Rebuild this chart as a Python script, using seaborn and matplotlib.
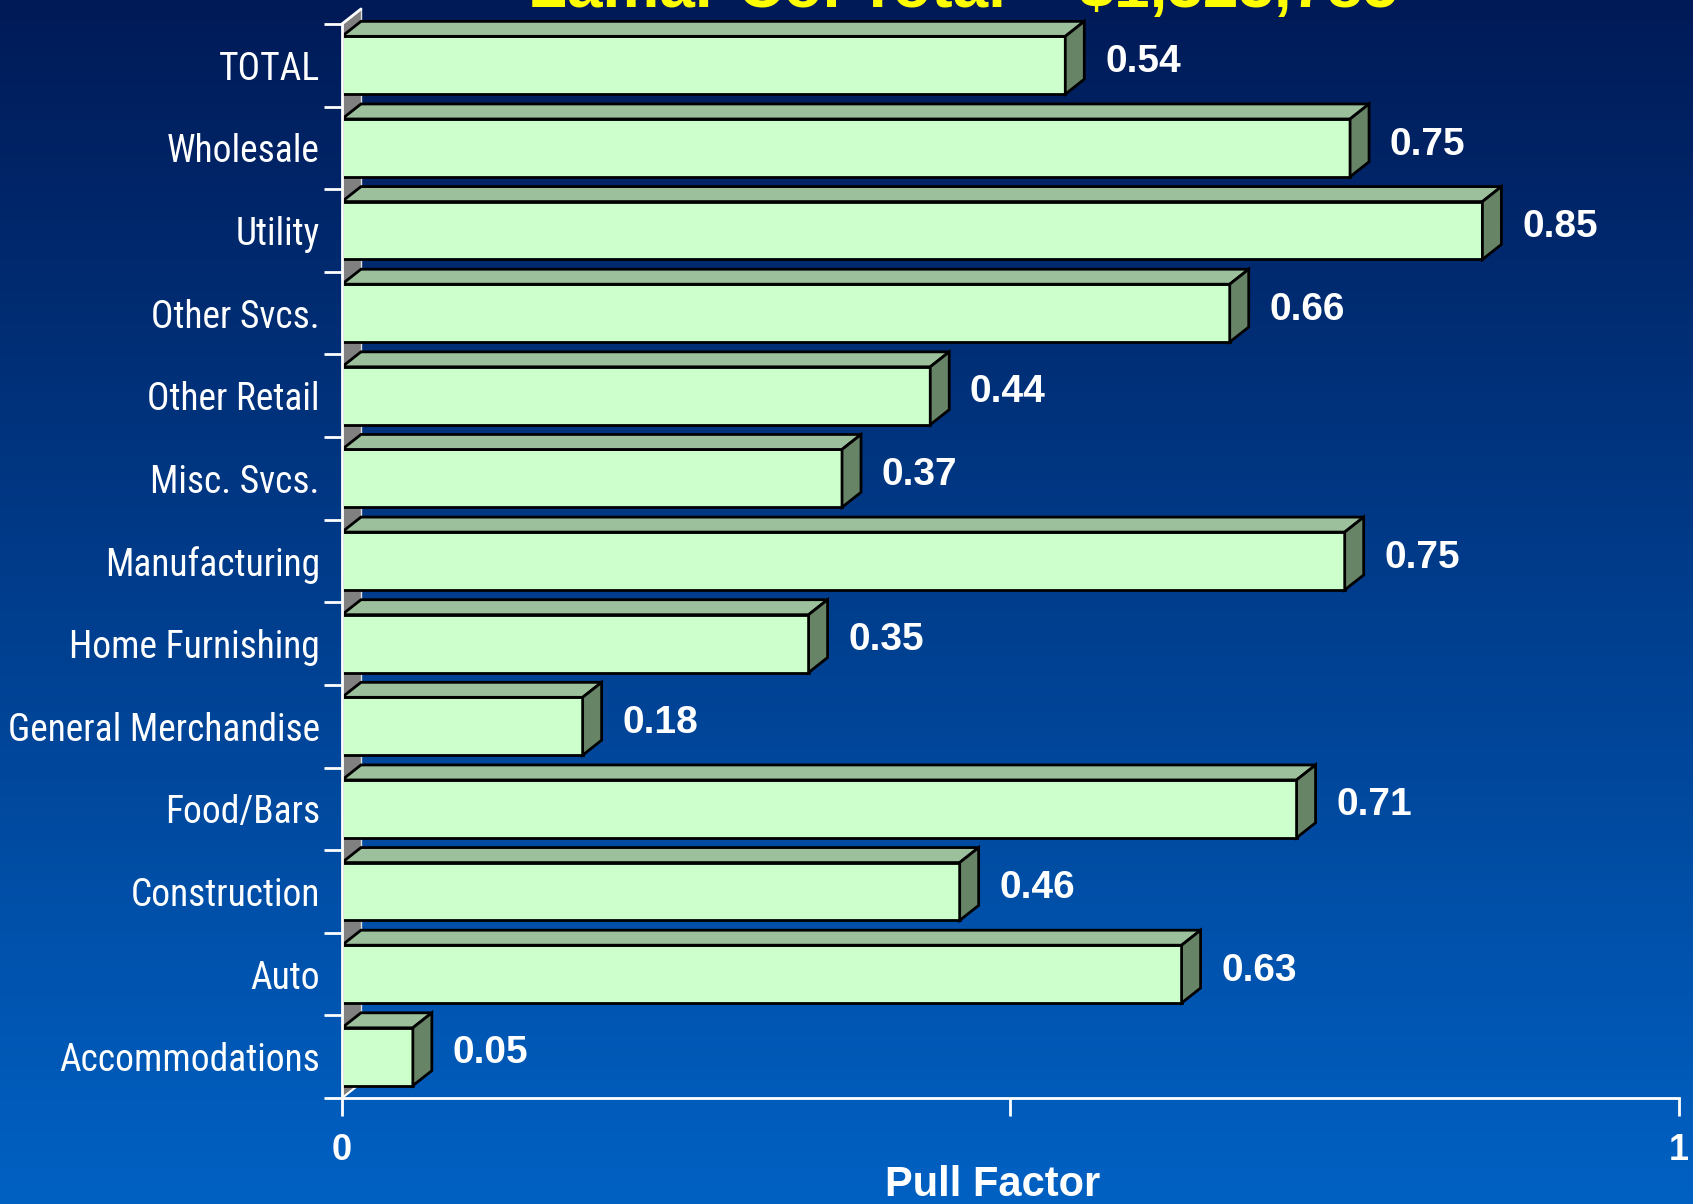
import numpy as np
import pandas as pd
import seaborn as sns
import matplotlib.pyplot as plt
from matplotlib import font_manager
from matplotlib.colors import LinearSegmentedColormap
from matplotlib.patches import Polygon

# data (top to bottom)
categories = ['TOTAL', 'Wholesale', 'Utility', 'Other Svcs.', 'Other Retail', 'Misc. Svcs.',
              'Manufacturing', 'Home Furnishing', 'General Merchandise', 'Food/Bars',
              'Construction', 'Auto', 'Accommodations']
pull_factor = [0.541, 0.754, 0.853, 0.664, 0.440, 0.374, 0.750, 0.349, 0.180, 0.714,
               0.462, 0.628, 0.053]
x_ticks = [0, 0.5, 1]
x_tick_labels = ['0', '', '1']
title = 'Lamar Co. Total = $1,323,785'

df = pd.DataFrame({'category': categories, 'pull': pull_factor})

sns.set_theme(style='white')
plt.rcParams['font.family'] = ['Liberation Sans', 'DejaVu Sans']

# category labels use a narrow face - pick whatever condensed font is around
fonts = [(f.name, f.stretch) for f in font_manager.fontManager.ttflist]
names = set(n for n, s in fonts)
lab_font = dict(family=['Liberation Sans', 'DejaVu Sans'], fontsize=23)
if 'Liberation Sans Narrow' in names:
    lab_font = dict(family=['Liberation Sans Narrow', 'DejaVu Sans'], fontsize=28)
elif 'Roboto Condensed' in names:
    lab_font = dict(family=['Roboto Condensed', 'DejaVu Sans'], fontsize=27)
else:
    for fam in ['Open Sans', 'Noto Sans', 'Roboto', 'DejaVu Sans']:
        if (fam, 'condensed') in fonts:
            lab_font = dict(family=[fam, 'DejaVu Sans'], fontstretch='condensed', fontsize=27)
            break

fig = plt.figure(figsize=(16.93, 12.04), dpi=100)

# blue gradient background
bg = fig.add_axes([0, 0, 1, 1], zorder=-10)
grad = np.linspace(0, 1, 256).reshape(-1, 1)
cmap = LinearSegmentedColormap.from_list('bg', ['#001a57', '#0061c3'])
bg.imshow(grad, aspect='auto', cmap=cmap, extent=[0, 1, 0, 1], origin='upper')
bg.axis('off')

ax = fig.add_axes([0.2020, 0.0880, 0.7897, 0.8921])
ax.patch.set_alpha(0)
sns.barplot(data=df, x='pull', y='category', orient='h', color='#ccffcc', saturation=1,
            edgecolor='black', linewidth=2, width=0.7, ax=ax, zorder=3)
ax.set_xlim(0, 1)
ax.set_ylim(len(categories) - 0.5, -0.5)
ax.set_xlabel('')
ax.set_ylabel('')

# 3d depth in data units (about 19px right, 15px up)
dx = 19 / 1337
dy = 15 / 82.6

# left back wall
ybot, ytop = len(categories) - 0.5, -0.5
wall = Polygon([(0, ybot), (dx, ybot - dy), (dx, ytop - dy), (0, ytop)],
               closed=True, facecolor='#808080', edgecolor='none', zorder=1, clip_on=False)
ax.add_patch(wall)
ax.plot([0, dx], [ytop, ytop - dy], color='white', lw=2, zorder=2, clip_on=False)
ax.plot([0, dx], [ybot, ybot - dy], color='white', lw=1.5, zorder=2, clip_on=False)
ax.plot([dx, dx], [ybot - dy, ytop - dy], color='#dddddd', lw=1, zorder=1.5, clip_on=False)

for p, v in zip(ax.patches[:len(categories)], pull_factor):
    x0, w, y0, h = p.get_x(), p.get_width(), p.get_y(), p.get_height()
    top = Polygon([(x0, y0), (x0 + w, y0), (x0 + w + dx, y0 - dy), (x0 + dx, y0 - dy)],
                  closed=True, facecolor='#9bc09b', edgecolor='black', lw=2, zorder=3,
                  clip_on=False)
    side = Polygon([(x0 + w, y0), (x0 + w, y0 + h), (x0 + w + dx, y0 + h - dy),
                    (x0 + w + dx, y0 - dy)],
                   closed=True, facecolor='#678467', edgecolor='black', lw=2, zorder=3,
                   clip_on=False)
    ax.add_patch(top)
    ax.add_patch(side)
    ax.text(x0 + w + dx + 0.0155, y0 + h / 2 - dy / 2 + 0.05, f'{v:.2f}', ha='left',
            va='center', color='white', fontsize=28, fontweight='bold', zorder=5)

# axes and ticks
for s in ['top', 'right']:
    ax.spines[s].set_visible(False)
for s in ['left', 'bottom']:
    ax.spines[s].set_color('white')
    ax.spines[s].set_linewidth(2)
    ax.spines[s].set_zorder(4)

ax.set_xticks(x_ticks)
ax.set_xticklabels(x_tick_labels)
ax.tick_params(axis='x', bottom=True, direction='out', length=13, width=2, color='white',
               labelcolor='white', labelsize=26, pad=12)
for lbl in ax.get_xticklabels():
    lbl.set_fontweight('bold')

ax.set_yticks(np.arange(-0.5, len(categories), 1), minor=True)
ax.tick_params(axis='y', which='minor', left=True, direction='out', length=13, width=2,
               color='white')
ax.tick_params(axis='y', which='major', left=False, length=0, pad=16, labelcolor='white')
for lbl in ax.get_yticklabels():
    lbl.set_family(lab_font['family'])
    lbl.set_fontsize(lab_font['fontsize'])
    if 'fontstretch' in lab_font:
        lbl.set_fontstretch(lab_font['fontstretch'])

fig.text(0.569, 1 - 7 / 1204, title, ha='center', va='baseline', color='#ffff00',
         fontsize=46, fontweight='bold')
fig.text(0.5866, 8 / 1204, 'Pull Factor', ha='center', va='baseline', color='white',
         fontsize=30, fontweight='bold')

fig.savefig('out.png', dpi=100)
